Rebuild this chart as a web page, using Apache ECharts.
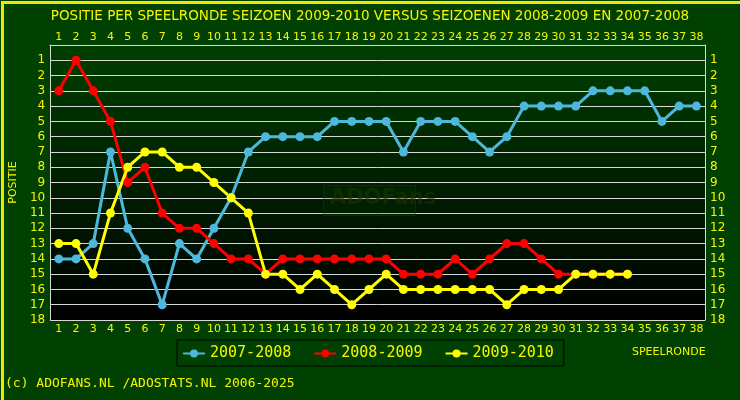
<!DOCTYPE html>
<html><head><meta charset="utf-8">
<script src="https://cdn.jsdelivr.net/npm/echarts@6/dist/echarts.min.js"></script>
<style>html,body{margin:0;padding:0;background:#004000}#c{width:740px;height:400px}</style>
</head><body><div id="c"></div>
<script>
const rounds = Array.from({length: 38}, (_, i) => String(i + 1));
const positionTicks = [1,2,3,4,5,6,7,8,9,10,11,12,13,14,15,16,17,18];
const seasonNames = ['2007-2008', '2008-2009', '2009-2010'];
const s2007 = [14,14,13,7,12,14,17,13,14,12,10,7,6,6,6,6,5,5,5,5,7,5,5,5,6,7,6,4,4,4,4,3,3,3,3,5,4,4];
const s2008 = [3,1,3,5,9,8,11,12,12,13,14,14,15,14,14,14,14,14,14,14,15,15,15,14,15,14,13,13,14,15,15,15,15,15];
const s2009 = [13,13,15,11,8,7,7,8,8,9,10,11,15,15,16,15,16,17,16,15,16,16,16,16,16,16,17,16,16,16,15,15,15,15];
const colors = ['#4db8dc', '#ff0000', '#ffff00'];
const yel = '#f5f500';

const chart = echarts.init(document.getElementById('c'), null, {renderer: 'canvas'});
const mkSeries = (name, data, color) => ({
  name, type: 'line', data, xAxisIndex: 0, yAxisIndex: 0,
  symbol: 'circle', symbolSize: 9,
  lineStyle: {color, width: 3},
  itemStyle: {color},
  emphasis: {disabled: true}, animation: false
});
const yAx = (pos) => ({
  type: 'value', inverse: true, min: 0, max: 18, interval: 1, position: pos,
  axisLine: {show: true, lineStyle: {color: '#d8d8d8', width: 1}},
  axisTick: {show: false},
  splitLine: {show: pos === 'left', lineStyle: {color: '#d8d8d8', width: 1}},
  axisLabel: {color: yel, fontSize: 12, fontFamily: 'DejaVu Sans', margin: 5,
    formatter: v => positionTicks.includes(v) ? String(v) : ''},
  name: pos === 'left' ? 'POSITIE' : '', nameLocation: 'middle', nameRotate: 90, nameGap: 27,
  nameTextStyle: {color: yel, fontSize: 11, fontFamily: 'DejaVu Sans'}
});
const xAx = (pos) => ({
  type: 'category', data: rounds, position: pos, boundaryGap: true,
  axisLine: {show: true, lineStyle: {color: '#d8d8d8', width: 1}},
  axisTick: {show: false},
  axisLabel: {color: yel, fontSize: 11, fontFamily: 'DejaVu Sans', interval: 0, margin: pos === 'top' ? 2 : 4}
});
chart.setOption({
  backgroundColor: '#004000',
  animation: false,
  title: {text: 'POSITIE PER SPEELRONDE SEIZOEN 2009-2010 VERSUS SEIZOENEN 2008-2009 EN 2007-2008',
    left: 'center', top: 4,
    textStyle: {color: yel, fontSize: 13.5, fontWeight: 'normal', fontFamily: 'DejaVu Sans'}},
  grid: {left: 45, right: 35, top: 45, bottom: 80,
    show: true, borderWidth: 0,
    backgroundColor: {type: 'linear', x: 0, y: 0, x2: 0, y2: 1,
      colorStops: [{offset: 0, color: '#003f00'}, {offset: 1, color: '#000000'}]}},
  xAxis: [xAx('bottom'), xAx('top')],
  yAxis: [yAx('left'), yAx('right')],
  legend: {
    data: seasonNames, left: 177, top: 340, itemWidth: 22, itemHeight: 10, itemGap: 22,
    padding: [6, 10, 5, 5], borderColor: '#000', borderWidth: 1,
    textStyle: {color: yel, fontSize: 15, fontFamily: 'DejaVu Sans Mono'},
    selectedMode: false
  },
  series: [mkSeries(seasonNames[0], s2007, colors[0]), mkSeries(seasonNames[1], s2008, colors[1]), mkSeries(seasonNames[2], s2009, colors[2])],
  graphic: [
    {type: 'rect', left: 0, top: 0, shape: {width: 740, height: 400}, style: {fill: 'none', stroke: '#e8e800', lineWidth: 3}, silent: true, z: 100},
    {type: 'rect', left: 323, top: 185, shape: {width: 92, height: 30}, style: {fill: 'rgba(0,60,0,0.2)', stroke: 'rgba(30,60,15,0.5)', lineWidth: 1}, silent: true, z: 1},
    {type: 'text', left: 330, top: 188, style: {text: 'ADOFans', fill: 'rgba(30,50,0,0.6)', font: 'bold 21px "DejaVu Sans"'}, silent: true, z: 1},
    {type: 'text', left: 632, top: 347, style: {text: 'SPEELRONDE', fill: yel, font: '11px "DejaVu Sans"'}, silent: true},
    {type: 'text', left: 5, top: 377, style: {text: '(c) ADOFANS.NL /ADOSTATS.NL 2006-2025', fill: yel, font: '13px "DejaVu Sans Mono"'}, silent: true}
  ]
});
</script></body></html>
